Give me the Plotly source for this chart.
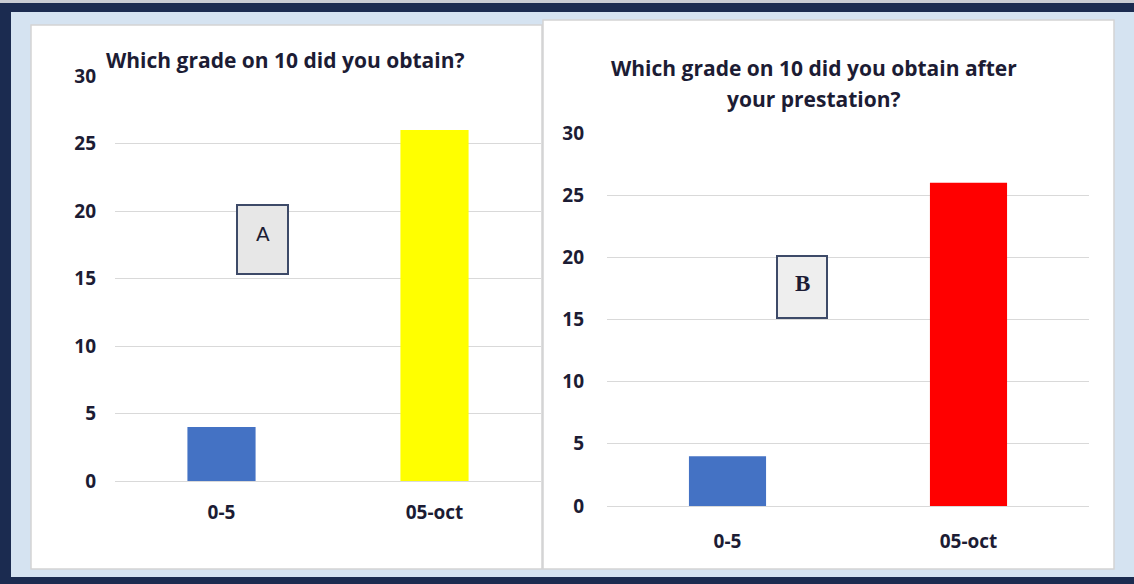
import plotly.graph_objects as go

categories = ["0-5", "05-oct"]
values_a = [4, 26]
values_b = [4, 26]
colors_a = ["#4472C4", "#FFFF00"]
colors_b = ["#4472C4", "#FF0000"]
y_ticks = [0, 5, 10, 15, 20, 25, 30]
title_a = "Which grade on 10 did you obtain?"
title_b_lines = ["Which grade on 10 did you obtain after", "your prestation?"]
labels = ["A", "B"]

W, H = 1134, 584
def px(x): return x / W
def py(y): return 1 - y / H

FONT = "Open Sans"
TXT = "#1c1c34"

fig = go.Figure()
fig.add_trace(go.Bar(x=categories, y=values_a, marker=dict(color=colors_a, line=dict(width=0)),
                     width=0.32, xaxis="x", yaxis="y", showlegend=False, hoverinfo="skip"))
fig.add_trace(go.Bar(x=categories, y=values_b, marker=dict(color=colors_b, line=dict(width=0)),
                     width=0.32, xaxis="x2", yaxis="y2", showlegend=False, hoverinfo="skip"))

shapes = [
    dict(type="rect", xref="paper", yref="paper", x0=0, x1=1, y0=0, y1=1,
         fillcolor="#1b2b50", line=dict(width=0), layer="below"),
    dict(type="rect", xref="paper", yref="paper", x0=0, x1=1, y0=py(3), y1=1,
         fillcolor="#c9ccd3", line=dict(width=0), layer="below"),
    dict(type="rect", xref="paper", yref="paper", x0=px(11), x1=1, y0=py(577), y1=py(12),
         fillcolor="#d5e3f1", line=dict(width=0), layer="below"),
    dict(type="rect", xref="paper", yref="paper", x0=px(31), x1=px(542), y0=py(569), y1=py(25),
         fillcolor="white", line=dict(width=1.5, color="#d4d4d4"), layer="below"),
    dict(type="rect", xref="paper", yref="paper", x0=px(543), x1=px(1114), y0=py(569), y1=py(20),
         fillcolor="white", line=dict(width=1.5, color="#d4d4d4"), layer="below"),
    dict(type="rect", xref="paper", yref="paper", x0=px(237), x1=px(288), y0=py(274), y1=py(205),
         fillcolor="#e7e7e7", line=dict(width=2, color="#3d4a68"), layer="above"),
    dict(type="rect", xref="paper", yref="paper", x0=px(777), x1=px(827), y0=py(318), y1=py(256),
         fillcolor="#eeeeee", line=dict(width=2, color="#3d4a68"), layer="above"),
]

tfont = dict(family=FONT, size=21, color=TXT, weight="bold")
annotations = [
    dict(text=title_a, xref="paper", yref="paper", x=px(104), y=py(60), xanchor="left",
         yanchor="middle", showarrow=False, font=tfont),
    dict(text=title_b_lines[0], xref="paper", yref="paper", x=px(814), y=py(68), xanchor="center",
         yanchor="middle", showarrow=False, font=tfont),
    dict(text=title_b_lines[1], xref="paper", yref="paper", x=px(814), y=py(99), xanchor="center",
         yanchor="middle", showarrow=False, font=tfont),
    dict(text=labels[0], xref="paper", yref="paper", x=px(262.5), y=py(234), xanchor="center",
         yanchor="middle", showarrow=False, font=dict(family="DejaVu Sans", size=20, color=TXT)),
    dict(text=labels[1], xref="paper", yref="paper", x=px(802), y=py(283), xanchor="center",
         yanchor="middle", showarrow=False, font=dict(family="Liberation Serif", size=23, color=TXT, weight="bold")),
]

tickfont = dict(family=FONT, size=19, color=TXT, weight="bold")
common_y = dict(range=[0, 30], tickvals=y_ticks, showgrid=True, gridcolor="#d9d9d9", gridwidth=1.3,
                zeroline=True, zerolinecolor="#d9d9d9", zerolinewidth=1.3, showline=False,
                ticks="", tickfont=tickfont, fixedrange=True, automargin=False)
common_x = dict(showgrid=False, zeroline=False, showline=False, ticks="", tickfont=tickfont,
                type="category", automargin=False, fixedrange=True)

fig.update_layout(
    width=W, height=H, margin=dict(l=0, r=0, t=0, b=0, autoexpand=False),
    paper_bgcolor="white", plot_bgcolor="rgba(0,0,0,0)",
    xaxis=dict(domain=[px(115), px(541)], anchor="y", ticklabelstandoff=18, **common_x),
    yaxis=dict(domain=[py(481), py(76)], anchor="x", ticklabelstandoff=18, **common_y),
    xaxis2=dict(domain=[px(607), px(1089)], anchor="y2", ticklabelstandoff=22, **common_x),
    yaxis2=dict(domain=[py(506), py(133)], anchor="x2", ticklabelstandoff=22, **common_y),
    shapes=shapes, annotations=annotations, bargap=0.68, hovermode=False,
)

fig.write_html("out.html", config={"displayModeBar": False},
               post_script="document.body.style.margin='0';document.body.style.padding='0';"
                           "document.documentElement.style.overflow='hidden';")
